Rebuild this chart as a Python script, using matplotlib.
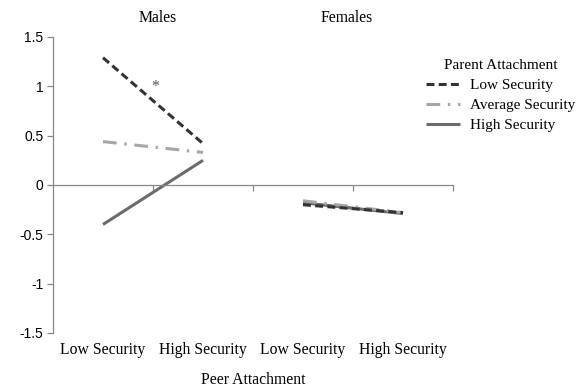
import matplotlib
matplotlib.use("Agg")
import matplotlib.pyplot as plt
from matplotlib.transforms import blended_transform_factory

# Simple slopes of the outcome by peer attachment, split by sex and parent attachment
peer_levels = ["Low Security", "High Security"]
groups = ["Males", "Females"]
parent_levels = ["Low Security", "Average Security", "High Security"]

males_low = [1.29, 0.42]
males_avg = [0.44, 0.33]
males_high = [-0.40, 0.25]
females_low = [-0.20, -0.28]
females_avg = [-0.16, -0.28]
females_high = [-0.18, -0.29]

serif = "Liberation Serif"
sans = "Liberation Sans"
fs = 11.3

fig = plt.figure(figsize=(5.88, 3.91), dpi=100)
W, H = 588, 391
ax = fig.add_axes([53 / W, (H - 333) / H, 400 / W, 296 / H])

styles = {
    "Low Security": dict(color="#333333", lw=2.2, dashes=(2.6, 1.4)),
    "Average Security": dict(color="#a6a6a6", lw=2.2, dashes=(4.5, 2.5, 0.8, 2.5)),
    "High Security": dict(color="#6b6b6b", lw=2.2, linestyle="-"),
}
series = {
    "Low Security": (males_low, females_low),
    "Average Security": (males_avg, females_avg),
    "High Security": (males_high, females_high),
}

x_m = [1, 2]
x_f = [3, 4]
handles = []
for name in ["High Security", "Average Security", "Low Security"]:
    m_vals, f_vals = series[name]
    st = styles[name]
    ax.plot(x_m, m_vals, solid_capstyle="butt", dash_capstyle="butt", **st)
    ax.plot(x_f, f_vals, solid_capstyle="butt", dash_capstyle="butt", **st)

for name in parent_levels:
    h, = ax.plot([], [], dash_capstyle="butt", solid_capstyle="butt", **styles[name])
    handles.append(h)

ax.set_xlim(0.5, 4.5)
ax.set_ylim(-1.5, 1.5)
ax.set_yticks([1.5, 1, 0.5, 0, -0.5, -1, -1.5])
ax.set_yticklabels(["1.5", "1", "0.5", "0", "-0.5", "-1", "-1.5"], fontfamily=sans, fontsize=10)

for s in ["top", "right"]:
    ax.spines[s].set_visible(False)
ax.spines["left"].set_color("#888888")
ax.spines["bottom"].set_color("#888888")
ax.spines["bottom"].set_position(("data", 0))
ax.spines["left"].set_linewidth(0.9)
ax.spines["bottom"].set_linewidth(0.9)
ax.tick_params(axis="y", colors="#888888", labelcolor="black", length=4, width=0.9, pad=3)
ax.set_xticks([1.5, 2.5, 3.5, 4.5])
ax.tick_params(axis="x", colors="#888888", length=4, width=0.9, labelbottom=False)

tb = blended_transform_factory(ax.transData, fig.transFigure)
for i, lab in enumerate(peer_levels * 2):
    ax.text(i + 1, (H - 350) / H, lab, transform=tb, ha="center", va="center",
            fontfamily=serif, fontsize=fs)
ax.text(2.5, (H - 380) / H, "Peer Attachment", transform=tb, ha="center", va="center",
        fontfamily=serif, fontsize=fs)
ax.text(1.55, (H - 18) / H, groups[0], transform=tb, ha="center", va="center",
        fontfamily=serif, fontsize=fs)
ax.text(3.44, (H - 18) / H, groups[1], transform=tb, ha="center", va="center",
        fontfamily=serif, fontsize=fs)

ax.text(1.52, 0.99, "*", ha="center", va="center", fontfamily=serif, fontsize=fs, color="#555555")

leg = fig.legend(handles, parent_levels, title="Parent Attachment", frameon=False,
                 loc="upper left", bbox_to_anchor=(426 / W, (H - 59) / H),
                 prop=dict(family=serif, size=11), handlelength=2.2, handletextpad=0.65,
                 labelspacing=0.42, borderpad=0, borderaxespad=0)
leg.get_title().set_fontfamily(serif)
leg.get_title().set_fontsize(11)

fig.savefig("out.png", dpi=100)
